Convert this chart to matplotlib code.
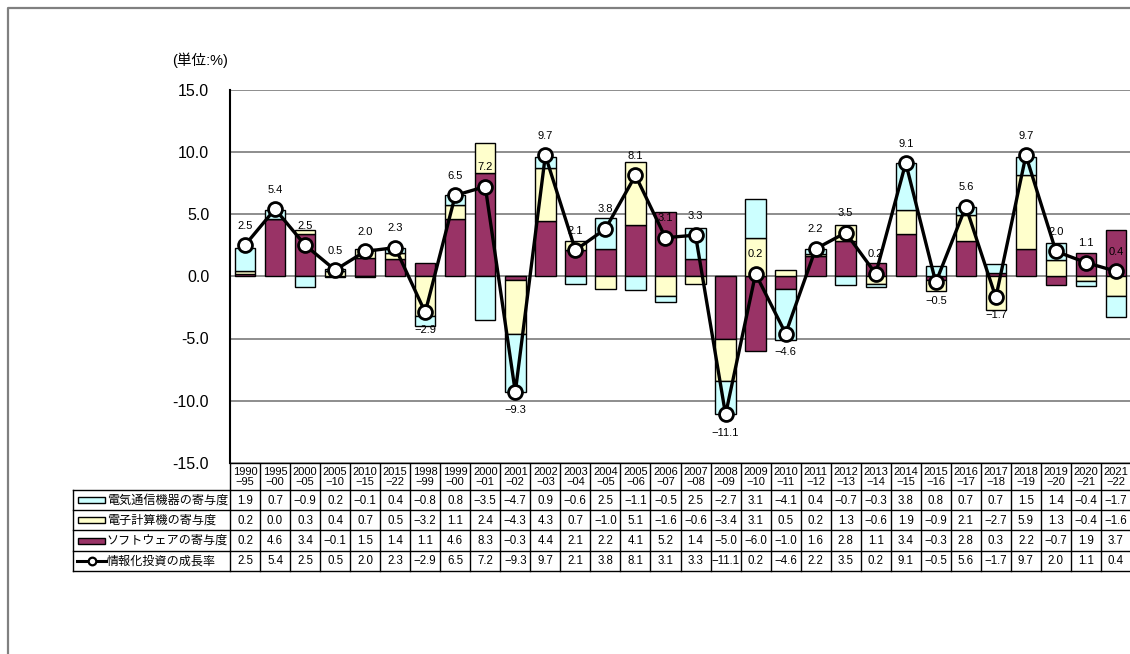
import numpy as np
import matplotlib
matplotlib.use("Agg")
import matplotlib.pyplot as plt
from matplotlib.lines import Line2D
from matplotlib.patches import Rectangle

plt.rcParams['font.family'] = ['Liberation Sans', 'Noto Sans CJK JP', 'DejaVu Sans']

# ---- data ----
periods = ["1990\n−95", "1995\n−00", "2000\n−05", "2005\n−10", "2010\n−15", "2015\n−22",
           "1998\n−99", "1999\n−00", "2000\n−01", "2001\n−02", "2002\n−03", "2003\n−04",
           "2004\n−05", "2005\n−06", "2006\n−07", "2007\n−08", "2008\n−09", "2009\n−10",
           "2010\n−11", "2011\n−12", "2012\n−13", "2013\n−14", "2014\n−15", "2015\n−16",
           "2016\n−17", "2017\n−18", "2018\n−19", "2019\n−20", "2020\n−21", "2021\n−22"]

telecom = [1.9, 0.7, -0.9, 0.2, -0.1, 0.4, -0.8, 0.8, -3.5, -4.7, 0.9, -0.6, 2.5, -1.1, -0.5,
           2.5, -2.7, 3.1, -4.1, 0.4, -0.7, -0.3, 3.8, 0.8, 0.7, 0.7, 1.5, 1.4, -0.4, -1.7]
computer = [0.2, 0.0, 0.3, 0.4, 0.7, 0.5, -3.2, 1.1, 2.4, -4.3, 4.3, 0.7, -1.0, 5.1, -1.6,
            -0.6, -3.4, 3.1, 0.5, 0.2, 1.3, -0.6, 1.9, -0.9, 2.1, -2.7, 5.9, 1.3, -0.4, -1.6]
software = [0.2, 4.6, 3.4, -0.1, 1.5, 1.4, 1.1, 4.6, 8.3, -0.3, 4.4, 2.1, 2.2, 4.1, 5.2,
            1.4, -5.0, -6.0, -1.0, 1.6, 2.8, 1.1, 3.4, -0.3, 2.8, 0.3, 2.2, -0.7, 1.9, 3.7]
growth = [2.5, 5.4, 2.5, 0.5, 2.0, 2.3, -2.9, 6.5, 7.2, -9.3, 9.7, 2.1, 3.8, 8.1, 3.1,
          3.3, -11.1, 0.2, -4.6, 2.2, 3.5, 0.2, 9.1, -0.5, 5.6, -1.7, 9.7, 2.0, 1.1, 0.4]

series_names = ["電気通信機器の寄与度", "電子計算機の寄与度", "ソフトウェアの寄与度", "情報化投資の成長率"]
c_telecom, c_computer, c_software = "#CCFFFF", "#FFFFCC", "#993366"

W, H = 1130, 654
fig = plt.figure(figsize=(W / 100, H / 100), dpi=100)

# ---- chart area ----
ax_left, ax_right, ax_top, ax_bottom = 230, 1131, 89.5, 463
ax = fig.add_axes([ax_left / W, 1 - ax_bottom / H, (ax_right - ax_left) / W, (ax_bottom - ax_top) / H])
n = len(periods)
x = np.arange(n)
ax.set_xlim(-0.5, n - 0.5)
ax.set_ylim(-15, 15)

# stacked bars: positive and negative parts stacked separately, software nearest zero
pos_base = np.zeros(n)
neg_base = np.zeros(n)
for vals, col in ((software, c_software), (computer, c_computer), (telecom, c_telecom)):
    v = np.array(vals, dtype=float)
    base = np.where(v >= 0, pos_base, neg_base)
    ax.bar(x, v, bottom=base, width=0.68, color=col, edgecolor="black", linewidth=1.0, zorder=3)
    pos_base = pos_base + np.where(v >= 0, v, 0)
    neg_base = neg_base + np.where(v < 0, v, 0)

ax.plot(x, growth, color="black", lw=2.4, marker="o", ms=10, mfc="white", mec="black",
        mew=2.0, zorder=5)
for i, v in enumerate(growth):
    txt = f"{v:.1f}".replace("-", "−")
    off = 14 if v >= 0 else -13
    ax.annotate(txt, (i, v), xytext=(0, off), textcoords="offset points", ha="center",
                va="center", fontsize=8, zorder=6)

ax.set_yticks(np.arange(-15, 16, 5))
ax.set_yticklabels([f"{t:.1f}" for t in np.arange(-15, 16, 5)], fontsize=11.5)
ax.tick_params(axis="y", length=0, pad=15)
ax.set_xticks([])
ax.yaxis.grid(True, color="#7a7a7a", lw=1.2, zorder=1)
ax.set_axisbelow(True)
for s in ("top", "right", "bottom"):
    ax.spines[s].set_visible(False)
ax.spines["left"].set_color("black")
ax.spines["left"].set_linewidth(1.5)
ax.spines["left"].set_zorder(4)

# ---- overlay in pixel coordinates: frame, unit label, data table ----
ov = fig.add_axes([0, 0, 1, 1], zorder=-1)
ov.set_xlim(0, W)
ov.set_ylim(H, 0)
ov.axis("off")
ov.patch.set_alpha(0)

ov.add_line(Line2D([8, 8, W + 5], [H + 5, 8, 8], color="#808080", lw=1.6))
ov.text(172, 60, "(単位:%)", fontsize=10.5, va="center", ha="left")

colw = (ax_right - ax_left) / n
lab_left = 73
head_top, head_bot = 463, 490
row_h = 20.2
row_edges = [head_bot + k * row_h for k in range(5)]
lc = "black"
ov.add_line(Line2D([ax_left, ax_right], [head_top, head_top], color=lc, lw=1.0))
for yy in row_edges:
    ov.add_line(Line2D([lab_left, ax_right], [yy, yy], color=lc, lw=1.0))
ov.add_line(Line2D([lab_left, lab_left], [head_bot, row_edges[-1]], color=lc, lw=1.0))
for k in range(n + 1):
    xx = ax_left + k * colw
    ov.add_line(Line2D([xx, xx], [head_top, row_edges[-1]], color=lc, lw=1.0))

for i, p in enumerate(periods):
    cx = ax_left + (i + 0.5) * colw
    ov.text(cx, (head_top + head_bot) / 2 + 0.5, p, ha="center", va="center", fontsize=8,
            linespacing=0.95)

rows = [telecom, computer, software, growth]
for r, vals in enumerate(rows):
    cy = row_edges[r] + row_h / 2
    for i, v in enumerate(vals):
        cx = ax_left + (i + 0.5) * colw
        ov.text(cx, cy + 0.5, f"{v:.1f}".replace("-", "−"), ha="center", va="center", fontsize=8.3)
    # legend keys
    if r < 3:
        col = (c_telecom, c_computer, c_software)[r]
        ov.add_patch(Rectangle((78, cy - 3), 27, 6, facecolor=col, edgecolor="black", lw=1.0))
    else:
        ov.add_line(Line2D([77, 106], [cy, cy], color="black", lw=2.2))
        ov.add_line(Line2D([91.5], [cy], marker="o", ms=5.5, mfc="white", mec="black", mew=1.6))
    ov.text(107, cy, series_names[r], ha="left", va="center", fontsize=8.7,
            family=["Noto Sans CJK JP", "DejaVu Sans"])

fig.savefig("out.png", dpi=100)
